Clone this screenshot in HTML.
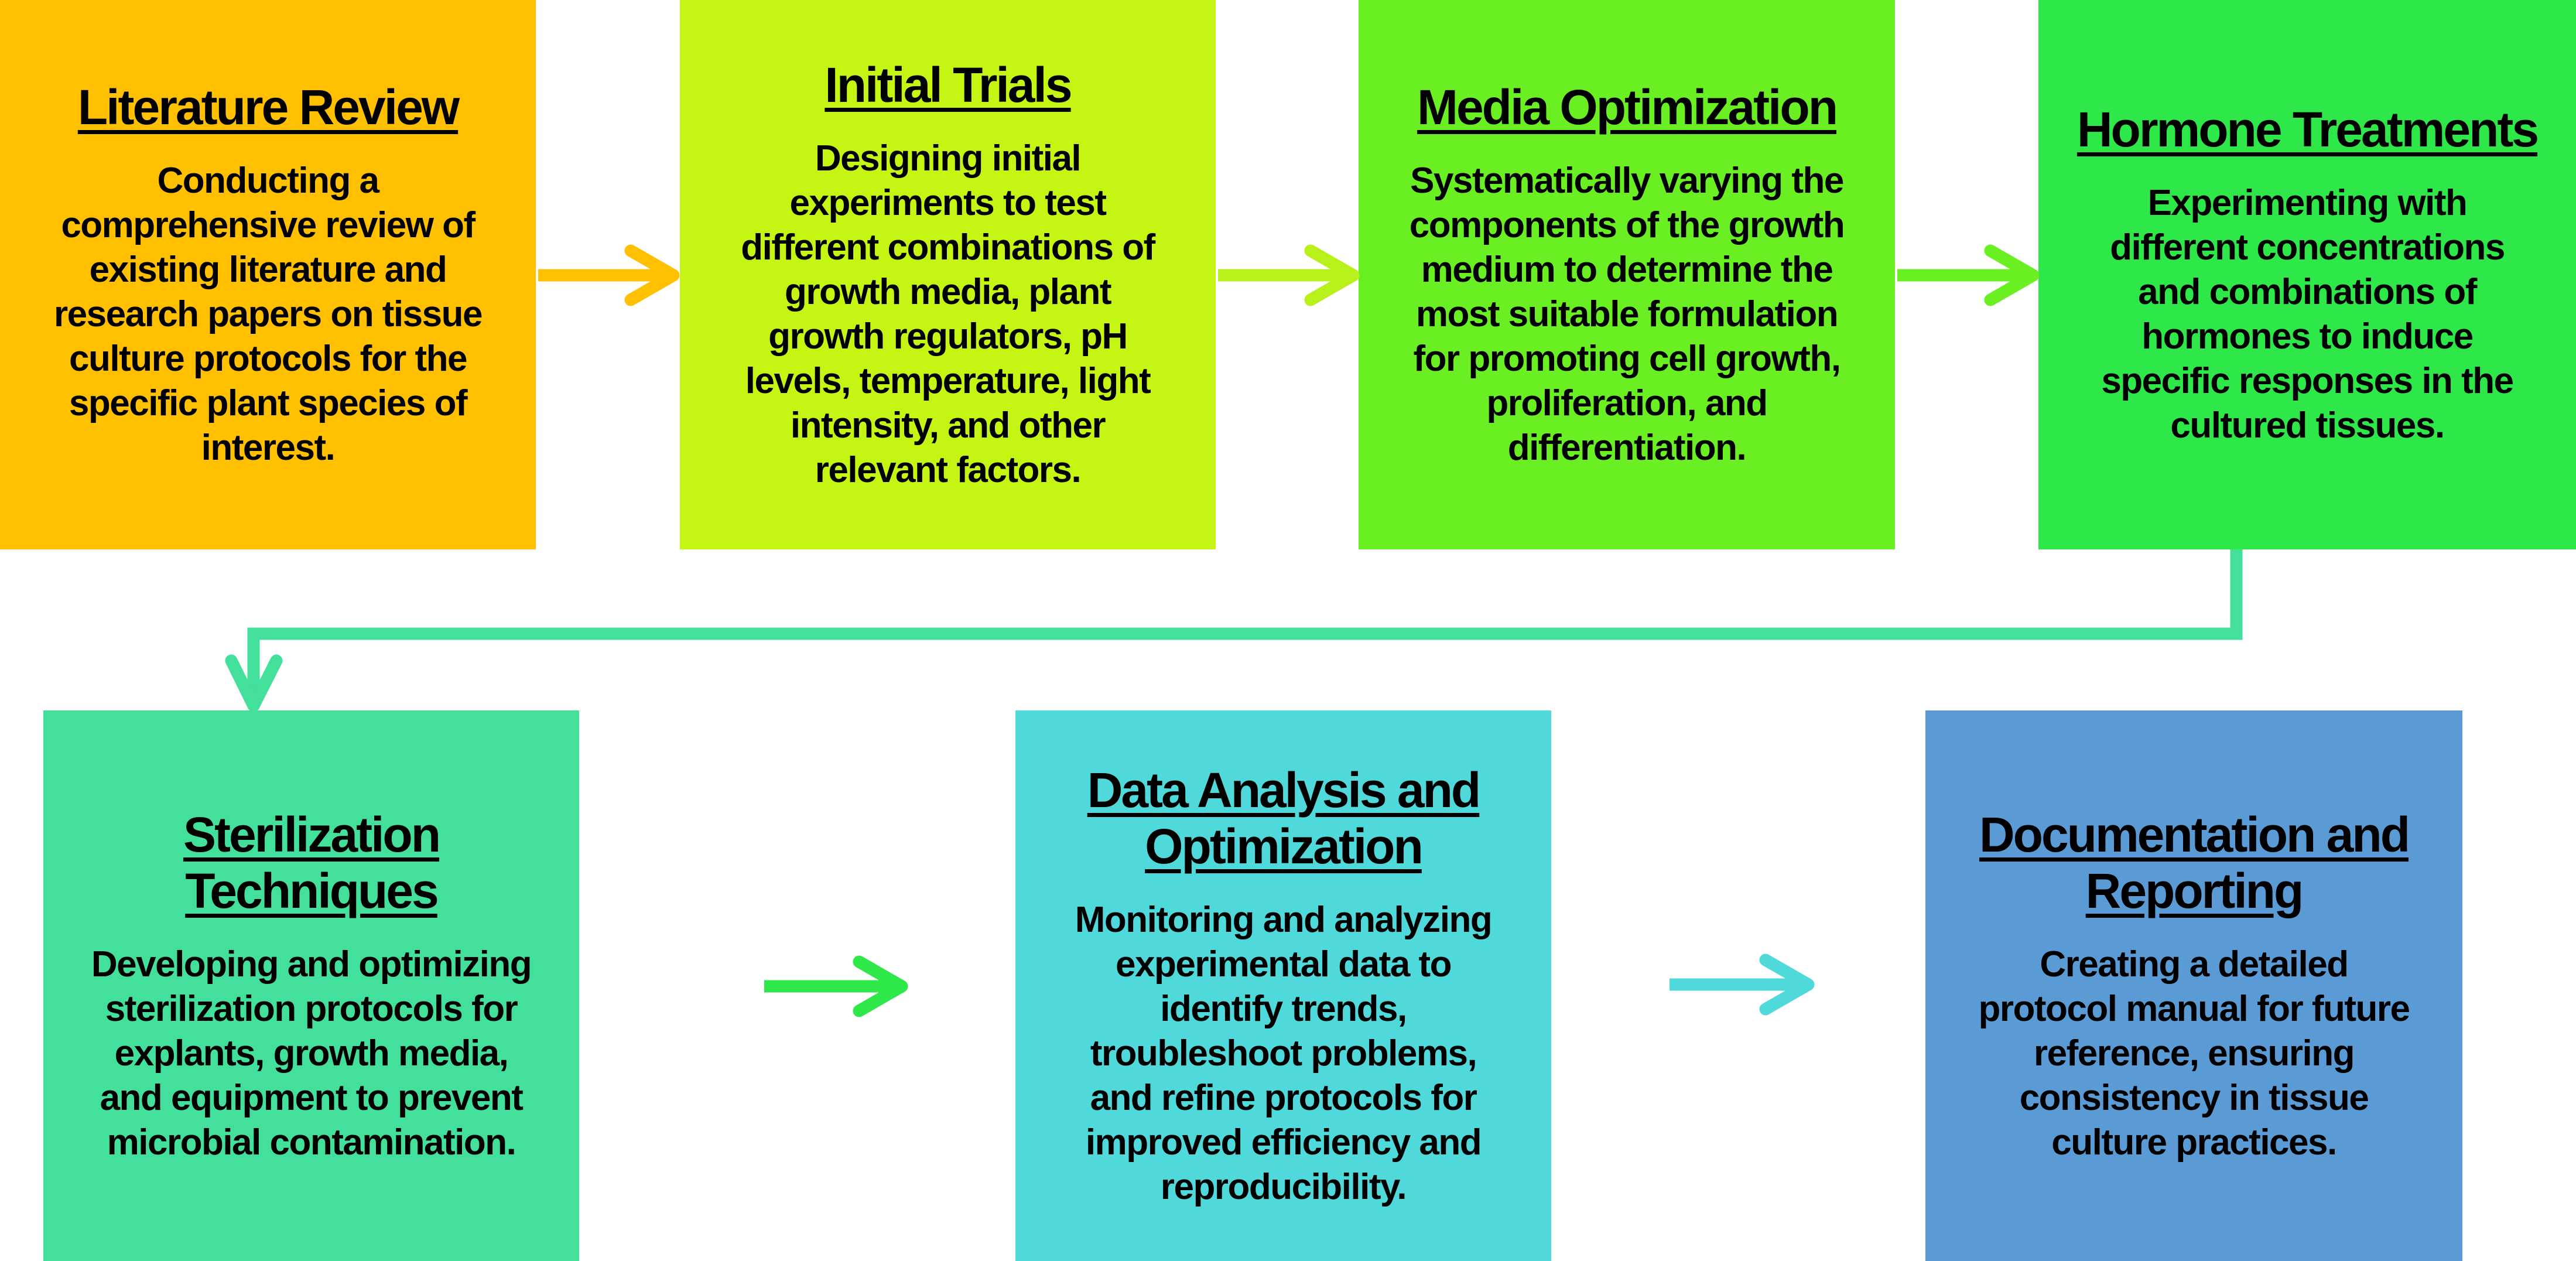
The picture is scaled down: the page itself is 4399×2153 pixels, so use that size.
<!DOCTYPE html>
<html><head><meta charset="utf-8"><style>
html,body{margin:0;padding:0;}
body{width:4399px;height:2153px;position:relative;background:#fff;overflow:hidden;font-family:"Liberation Sans",sans-serif;font-weight:bold;color:#000;}
.b{position:absolute;display:flex;flex-direction:column;justify-content:center;align-items:center;text-align:center;box-sizing:border-box;padding:0 10px;}
.t{font-size:84px;line-height:96px;letter-spacing:-3px;text-decoration:underline;text-decoration-thickness:7px;text-underline-offset:10px;margin-bottom:40px;white-space:nowrap;}
.d{font-size:62px;line-height:76px;letter-spacing:-1.5px;white-space:nowrap;}
svg{position:absolute;left:0;top:0;}
</style></head><body>
<div class="b" style="left:0;top:0;width:915px;height:938px;background:#FFC000;">
<div class="t">Literature Review</div>
<div class="d">Conducting a<br>comprehensive review of<br>existing literature and<br>research papers on tissue<br>culture protocols for the<br>specific plant species of<br>interest.</div></div>
<div class="b" style="left:1161px;top:0;width:915px;height:938px;background:#C5F512;">
<div class="t">Initial Trials</div>
<div class="d">Designing initial<br>experiments to test<br>different combinations of<br>growth media, plant<br>growth regulators, pH<br>levels, temperature, light<br>intensity, and other<br>relevant factors.</div></div>
<div class="b" style="left:2320px;top:0;width:916px;height:938px;background:#6AF022;">
<div class="t">Media Optimization</div>
<div class="d">Systematically varying the<br>components of the growth<br>medium to determine the<br>most suitable formulation<br>for promoting cell growth,<br>proliferation, and<br>differentiation.</div></div>
<div class="b" style="left:3481px;top:0;width:918px;height:938px;background:#2EE84A;">
<div class="t">Hormone Treatments</div>
<div class="d">Experimenting with<br>different concentrations<br>and combinations of<br>hormones to induce<br>specific responses in the<br>cultured tissues.</div></div>
<div class="b" style="left:74px;top:1213px;width:915px;height:940px;background:#42E09A;">
<div class="t">Sterilization<br>Techniques</div>
<div class="d">Developing and optimizing<br>sterilization protocols for<br>explants, growth media,<br>and equipment to prevent<br>microbial contamination.</div></div>
<div class="b" style="left:1734px;top:1213px;width:915px;height:940px;background:#4FD9DB;">
<div class="t">Data Analysis and<br>Optimization</div>
<div class="d">Monitoring and analyzing<br>experimental data to<br>identify trends,<br>troubleshoot problems,<br>and refine protocols for<br>improved efficiency and<br>reproducibility.</div></div>
<div class="b" style="left:3288px;top:1213px;width:917px;height:940px;background:#5B9BD5;">
<div class="t">Documentation and<br>Reporting</div>
<div class="d">Creating a detailed<br>protocol manual for future<br>reference, ensuring<br>consistency in tissue<br>culture practices.</div></div>
<svg width="4399" height="2153" viewBox="0 0 4399 2153">
<g fill="none" stroke-width="21" stroke-linecap="round" stroke-linejoin="round">
<line x1="919" y1="470" x2="1140" y2="470" stroke="#FFC000" stroke-linecap="butt"/>
<polyline points="1077,428 1150,470 1077,512" stroke="#FFC000"/>
<line x1="2080" y1="470" x2="2300" y2="470" stroke="#B8F01A" stroke-linecap="butt"/>
<polyline points="2238,428 2311,470 2238,512" stroke="#B8F01A"/>
<line x1="3240" y1="470" x2="3462" y2="470" stroke="#6AF022" stroke-linecap="butt"/>
<polyline points="3399,428 3472,470 3399,512" stroke="#6AF022"/>
<polyline points="3819,938 3819,1082 433,1082 433,1200" stroke="#42E09A" stroke-linecap="butt" stroke-linejoin="miter"/>
<polyline points="395,1128 433,1205 472,1128" stroke="#42E09A"/>
<line x1="1305" y1="1684" x2="1530" y2="1684" stroke="#2EE84A" stroke-linecap="butt"/>
<polyline points="1467,1642 1540,1684 1467,1726" stroke="#2EE84A"/>
<line x1="2851" y1="1681" x2="3078" y2="1681" stroke="#4FD9DB" stroke-linecap="butt"/>
<polyline points="3015,1639 3088,1681 3015,1723" stroke="#4FD9DB"/>
</g></svg>
</body></html>
